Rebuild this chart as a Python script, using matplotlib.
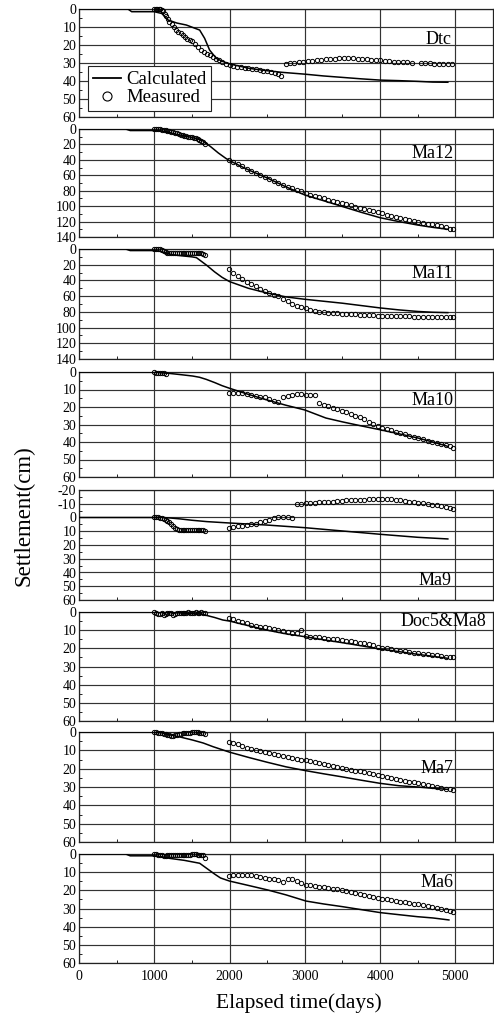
import numpy as np
import matplotlib
matplotlib.use('Agg')
import matplotlib.pyplot as plt
from matplotlib.ticker import MultipleLocator
from matplotlib.lines import Line2D

plt.rcParams['font.family'] = ['Liberation Serif', 'DejaVu Serif']
plt.rcParams['axes.unicode_minus'] = False
nan = float('nan')

# ---------------- data ----------------
T_EARLY = [1000, 1025, 1050, 1075, 1100, 1125, 1150, 1175, 1200, 1225, 1250, 1275, 1300, 1325,
           1350, 1375, 1400, 1425, 1450, 1475, 1500, 1525, 1550, 1575, 1600, 1625, 1650, 1675]
T_LATE = [1990, 2050, 2110, 2170, 2230, 2290, 2350, 2410, 2470, 2530,
          2590, 2650, 2710, 2770, 2830, 2890, 2950, 3010, 3070, 3130,
          3190, 3250, 3310, 3370, 3430, 3490, 3550, 3610, 3670, 3730,
          3790, 3850, 3910, 3970, 4030, 4090, 4150, 4210, 4270, 4330,
          4390, 4450, 4510, 4570, 4630, 4690, 4750, 4810, 4870, 4930,
          4970]

# Dtc
DTC_CALC_T = [0, 650, 700, 1000, 1100, 1183, 1300, 1426, 1603, 1669, 1735, 1824, 1900, 2000, 2265,
              2500, 2700, 3000, 3250, 3500, 3750, 4000, 4250, 4500, 4700, 4900]
DTC_CALC_V = [0, 0, 1.5, 1.5, 2.5, 6.1, 7.8, 8.9, 11.7, 16.3, 22.8, 27.4, 29, 30.5, 33,
              34.3, 35.2, 36.2, 37.2, 38, 38.8, 39.5, 39.8, 40.2, 40.6, 40.7]
DTC_MEAS_T = [1000, 1020, 1040, 1060, 1080, 1100, 1120, 1140, 1160, 1180, 1200,
              1230, 1260, 1290, 1320, 1350, 1380, 1410, 1440, 1470, 1500,
              1540, 1580, 1620, 1660, 1700, 1740, 1780, 1820, 1860, 1900,
              1950, 2000, 2050, 2100, 2150, 2200, 2250, 2300, 2350, 2400, 2450, 2500, 2550, 2600, 2650,
              2690,
              2750, 2800,
              2860, 2920, 2980, 3040, 3100, 3160, 3220, 3280, 3340, 3400,
              3460, 3520, 3580, 3640, 3700, 3760, 3820, 3880, 3940, 4000,
              4060, 4120, 4180, 4240, 4300, 4360, 4420,
              4540, 4600, 4660, 4720, 4780, 4840, 4900, 4960]
DTC_MEAS_V = [0, 0, 0, 0, 0.2, 0.5, 1, 2.5, 4, 5.5, 7,
              8.5, 10, 11.5, 12.5, 13.5, 14.5, 15.5, 16.5, 17.2, 18,
              19.5, 21, 22.5, 24, 25, 25.8, 26.5, 27.5, 28.5, 29.5,
              30.5, 31, 31.5, 32, 32.3, 32.7, 33, 33.3, 33.6, 34, 34.3, 34.7, 35, 35.5, 36.2,
              37,
              30.5, 30.2,
              29.8, 29.5, 29.3, 29, 28.8, 28.5, 28.3, 28, 27.8, 27.6,
              27.4, 27.3, 27.2, 27.3, 27.5, 27.7, 27.9, 28.1, 28.4, 28.6,
              28.8, 29, 29.2, 29.4, 29.5, 29.7, 29.8,
              30, 30.1, 30.2, 30.3, 30.4, 30.4, 30.5, 30.5]

# Ma12
MA12_CALC_T = [0, 620, 680, 1000, 1100, 1200, 1300, 1400, 1500, 1600, 1650, 1750, 1850, 1950, 2000,
               2250, 2500, 2750, 3000, 3250, 3500, 3750, 4000, 4250, 4500, 4700, 4900]
MA12_CALC_V = [0, 0, 2, 2, 2.5, 4.5, 7, 9, 11, 13.5, 15.5, 23, 31, 38, 41,
               53, 63.5, 75, 85.5, 93, 100.5, 108, 115, 120, 124.5, 127.5, 130]
MA12_EARLY = [0, 0, 0, 0.3, 0.8, 1.2, 1.6, 2, 2.8, 3.5, 4.2, 5, 5.8, 6.5,
              7.2, 8, 8.8, 9.5, 10, 10.5, 11, 11.5, 12, 13, 14, 15, 17, 20]
MA12_LATE = [40, 43, 45.5, 48.5, 51.5, 54.5, 57.5, 60, 62.5, 65,
             67.5, 70, 72.5, 75, 77, 79, 81, 83, 85, 86.5,
             88, 90, 91.5, 93, 94.5, 96, 97.5, 99, 100.5, 102,
             103.5, 105, 106.5, 108, 109.5, 111, 112.5, 114, 115, 116.5,
             117.5, 119, 120.5, 121.5, 122.5, 123.5, 125, 126, 127.5, 129,
             130]

# Ma11
MA11_CALC_T = [0, 620, 680, 1000, 1050, 1100, 1150, 1200, 1300, 1400, 1500, 1560, 1700, 1800, 1900, 2000,
               2250, 2500, 2750, 3000, 3250, 3500, 3750, 4000, 4250, 4500, 4700, 4900]
MA11_CALC_V = [0, 0, 2, 2, 2.5, 3.5, 5, 6.5, 8, 9, 10, 11, 21, 29, 36, 41.5,
               50, 56, 61, 64, 66.5, 69, 72, 75, 77.5, 79.5, 80.5, 81]
MA11_EARLY = [0, 0, 0, 0.5, 1.5, 3, 4, 4.5, 5, 5, 5, 5, 5, 5,
              5, 5, 5, 5, 5, 5, 5, 5, 5, 5, 5.5, 5.5, 6, 8]
MA11_LATE = [26, 30, 34, 38.5, 42, 45, 47.5, 50.5, 53.5, 56,
             58, 60, 63, 66, 70, 72.5, 74, 75.5, 77, 78.5,
             79.7, 80.5, 81, 81.5, 81.8, 82.2, 82.6, 83, 83.3, 83.6,
             83.9, 84.2, 84.5, 84.8, 85, 85.2, 85.4, 85.5, 85.6, 85.7,
             85.8, 86, 86.1, 86.2, 86.3, 86.4, 86.5, 86.6, 86.7, 86.8,
             86.9]

# Ma10
MA10_CALC_T = [0, 1000, 1100, 1200, 1350, 1510, 1600, 1690, 1800, 1900, 2000, 2250, 2500, 2750, 3000,
               3280, 3500, 3750, 4000, 4250, 4500, 4700, 4900]
MA10_CALC_V = [0, 0, 0.5, 0.8, 1.5, 2.3, 3, 4.2, 6, 7.8, 9.3, 12.8, 16, 19, 21.7,
               26.3, 28.5, 30.8, 33, 35.3, 37.7, 40, 42.5]
MA10_EARLY = [0, 0.3, 0.5, 0.5, 0.8, 0.8, 1]
MA10_LATE = [12, 12, 12, 12.2, 12.5, 13, 13.5, 14, 14.5, 15.5,
             16.5, 17, 14.5, 13.5, 13, 12.8, 12.8, 13, 13, 13.2,
             17.8, 18.6, 19.5, 20.5, 21.3, 22, 23, 24, 25, 25.8,
             27, 28.3, 29.5, 30.8, 31.8, 32.5, 33.2, 34, 34.7, 35.5,
             36.3, 37, 37.8, 38.5, 39.2, 39.8, 40.4, 41, 41.8, 42.5,
             43.2]

# Ma9
MA9_CALC_T = [0, 1000, 1100, 1200, 1340, 1500, 1700, 2000, 2500, 3000, 3500, 4000, 4500, 4900]
MA9_CALC_V = [0, 0, 0, 0.3, 1, 2, 3, 4, 5.5, 7.4, 9.8, 12.2, 14.4, 15.6]
MA9_EARLY = [0, 0, 0, 0.3, 0.6, 1, 1.5, 2.2, 3.5, 5, 6.5, 7.5, 8.2, 8.8,
             9, 9, 9, 9, 9, 9, 9, 9, 9, 9, 9, 9, 9, 9.5]
MA9_LATE = [7.5, 7, 6.5, 6, 5.5, 5, 4.5, 3.5, 2.5, 1.5,
            0.5, 0, -0.5, 0, 0.5, -9.5, -10, -10.2, -10.5, -10.8,
            -11, -11.2, -11.4, -11.6, -11.8, -12, -12.5, -12.7, -12.8, -13,
            -13, -13.1, -13.2, -13.2, -13.3, -13.3, -13.3, -13, -12.5, -12,
            -11.5, -11, -10.5, -10.2, -9.8, -9.3, -8.8, -8.2, -7.6, -7,
            -6.5]

# Doc5&Ma8
MA8_CALC_T = [0, 1000, 1200, 1400, 1640, 1800, 1910, 2000, 2250, 2500, 2750, 3000, 3250, 3500,
              3750, 4000, 4250, 4500, 4700, 4900]
MA8_CALC_V = [0, 0, 0.3, 0.6, 1.3, 3, 4.4, 5, 7.5, 10, 12, 13.6, 15.3, 16.9,
              18.6, 20.4, 21.8, 23.3, 24.4, 25.5]
MA8_EARLY = [0, 0.5, 1, 1.2, 0.8, 1.5, 1.2, 0.6, 0.3, 0.8, 1.5, 1, 0.5, 0.3,
             0.5, 0.8, 0.5, 0.3, 0, 0.5, 0.8, 0.3, 0, 0.3, 0.5, 0, 0.3, 0.8]
MA8_LATE = [3.3, 4, 4.8, 5.5, 6.2, 7, 7.5, 8, 8.5, 9,
            9.5, 10, 10.5, 11, 11.5, 11.8, 10, 13, 13.5, 13.8,
            14, 14.3, 14.6, 14.9, 15.1, 15.4, 15.7, 16.1, 16.5, 16.9,
            17.3, 17.7, 18.4, 19, 19.6, 20, 20.4, 20.8, 21.2, 21.6,
            22, 22.4, 22.7, 23, 23.3, 23.6, 23.9, 24.2, 24.5, 24.8,
            25]

# Ma7
MA7_CALC_T = [0, 1000, 1100, 1200, 1350, 1510, 1650, 1780, 2000, 2265, 2500, 2750, 3000, 3250,
              3500, 3750, 4000, 4250, 4500, 4700, 4900]
MA7_CALC_V = [0, 0, 0.5, 1.5, 2.8, 4.4, 6, 8, 11, 14, 16.5, 19, 21, 22.8,
              24.5, 26.3, 28, 29.3, 30, 30.7, 31.3]
MA7_EARLY = [0, 0, 0.3, 0.5, 0.8, 1, 1.3, 1.6, 1.8, 2, 2, 1.8, 1.5, 1.2,
             1, 0.8, 0.5, 0.3, 0.3, 0.3, 0.2, 0.2, 0.2, 0.2, 0.3, 0.5, 0.8, 1.2]
MA7_LATE = [5.4, 6, 6.8, 7.8, 8.5, 9.2, 10, 10.5, 11, 11.5,
            12, 12.5, 13, 13.5, 14, 14.5, 15, 15.5, 16, 16.5,
            17, 17.5, 18, 18.5, 19, 19.5, 20, 20.5, 21, 21.5,
            22, 22.5, 23, 23.5, 24, 24.5, 25, 25.5, 26, 26.5,
            27, 27.5, 28, 28.5, 29, 29.5, 30, 30.5, 31, 31.3,
            31.5]

# Ma6
MA6_CALC_T = [0, 620, 680, 1000, 1100, 1205, 1400, 1603, 1700, 1800, 1880, 2000, 2250, 2507, 2750,
              3016, 3250, 3502, 3700, 4009, 4250, 4494, 4700, 4914]
MA6_CALC_V = [0, 0, 1, 1, 1.5, 2.4, 3.5, 5.1, 8, 11, 13.2, 14.9, 17.3, 19.8, 22.5,
              25.9, 27.5, 29, 30.3, 32.3, 33.4, 34.5, 35.2, 36.3]
MA6_EARLY = [0, 0, 0.3, 0.5, 0.8, 1.2, 1, 0.8, 0.6, 0.5, 0.5, 0.4, 0.3, 0.3,
             0.4, 0.5, 0.5, 0.4, 0.3, 0.3, 0.2, 0.2, 0.2, 0.3, 0.4, 0.5, 0.8, 2]
MA6_LATE = [12, 11.8, 11.7, 11.7, 11.7, 11.8, 12, 12.5, 13, 13.5,
            14, 14.5, 15.5, 13.8, 13.5, 15, 16, 17, 17.3, 17.7,
            18, 18.3, 18.6, 19, 19.4, 19.8, 20.2, 20.7, 21.2, 21.8,
            22.4, 23, 23.6, 24.2, 24.6, 25, 25.4, 25.8, 26.2, 26.6,
            27, 27.3, 27.6, 28, 28.5, 29, 29.5, 30, 30.6, 31.2,
            31.7]

X_TICKS = [0, 1000, 2000, 3000, 4000, 5000]

panels = [
    dict(name='Dtc', ylim=(0, 60), step=10, calc=(DTC_CALC_T, DTC_CALC_V),
         meas=[(DTC_MEAS_T, DTC_MEAS_V)], lab=(0.901, 0.72)),
    dict(name='Ma12', ylim=(0, 140), step=20, calc=(MA12_CALC_T, MA12_CALC_V),
         meas=[(T_EARLY, MA12_EARLY), (T_LATE, MA12_LATE)], lab=(0.904, 0.77)),
    dict(name='Ma11', ylim=(0, 140), step=20, calc=(MA11_CALC_T, MA11_CALC_V),
         meas=[(T_EARLY, MA11_EARLY), (T_LATE, MA11_LATE)], lab=(0.904, 0.78)),
    dict(name='Ma10', ylim=(0, 60), step=10, calc=(MA10_CALC_T, MA10_CALC_V),
         meas=[(T_EARLY, MA10_EARLY), (T_LATE, MA10_LATE)], lab=(0.904, 0.73)),
    dict(name='Ma9', ylim=(-20, 60), step=10, calc=(MA9_CALC_T, MA9_CALC_V),
         meas=[(T_EARLY, MA9_EARLY), (T_LATE, MA9_LATE)], lab=(0.900, 0.18)),
    dict(name='Doc5&Ma8', ylim=(0, 60), step=10, calc=(MA8_CALC_T, MA8_CALC_V),
         meas=[(T_EARLY, MA8_EARLY), (T_LATE, MA8_LATE)], lab=(0.983, 0.91)),
    dict(name='Ma7', ylim=(0, 60), step=10, calc=(MA7_CALC_T, MA7_CALC_V),
         meas=[(T_EARLY, MA7_EARLY), (T_LATE, MA7_LATE)], lab=(0.904, 0.67)),
    dict(name='Ma6', ylim=(0, 60), step=10, calc=(MA6_CALC_T, MA6_CALC_V),
         meas=[(T_EARLY, MA6_EARLY), (T_LATE, MA6_LATE)], lab=(0.904, 0.74)),
]

# ---------------- layout ----------------
W, H = 494, 1016
fig = plt.figure(figsize=(W / 100, H / 100), dpi=100)
tops = [9, 129, 249, 372, 490, 612, 732, 854]
bots = [117, 237, 359, 477, 600, 721, 842, 963]
x0, x1 = 79, 493

GRID_C = '#333333'
axes = []
for i, p in enumerate(panels):
    ax = fig.add_axes([x0 / W, 1 - bots[i] / H, (x1 - x0) / W, (bots[i] - tops[i]) / H])
    axes.append(ax)
    lo, hi = p['ylim']
    ax.set_xlim(0, 5500)
    ax.set_ylim(hi, lo)
    ax.yaxis.set_major_locator(MultipleLocator(p['step']))
    ax.yaxis.set_minor_locator(MultipleLocator(p['step'] / 2))
    ax.set_xticks(X_TICKS)
    ax.xaxis.set_minor_locator(MultipleLocator(500))
    ax.grid(True, which='major', color=GRID_C, lw=0.85)
    ax.set_axisbelow(True)
    ax.tick_params(which='both', direction='in', labelsize=10, pad=2, color='#222222')
    ax.tick_params(which='major', length=0)
    ax.tick_params(which='minor', length=2.5, width=0.7)
    ax.tick_params(axis='x', which='minor', top=False)
    ax.tick_params(axis='y', which='minor', right=False)
    for s in ax.spines.values():
        s.set_color('#222222')
        s.set_linewidth(0.9)
    if i < len(panels) - 1:
        ax.tick_params(axis='x', labelbottom=False)
    else:
        ax.tick_params(axis='x', pad=5)

    ct, cv = p['calc']
    ax.plot(ct, cv, color='black', lw=1.1, zorder=3)
    for mt, mv in p['meas']:
        ax.plot(mt[:len(mv)], mv, ls='none', marker='o', ms=3.1, mfc='none', mec='black',
                mew=0.7, zorder=4, clip_on=False)
    ax.text(p['lab'][0], p['lab'][1], p['name'], transform=ax.transAxes, ha='right', va='center',
            fontsize=13, zorder=5)

# legend in first panel
handles = [Line2D([], [], color='black', lw=1.3),
           Line2D([], [], ls='none', marker='o', ms=6.5, mfc='none', mec='black', mew=0.8)]
leg = axes[0].legend(handles, ['Calculated', 'Measured'], loc='lower left',
                     bbox_to_anchor=(0.022, 0.056), borderaxespad=0, fontsize=13.5,
                     handlelength=1.5, handletextpad=0.3, borderpad=0.25, labelspacing=0.05,
                     fancybox=False, framealpha=1, edgecolor='#222222')
leg.get_frame().set_linewidth(0.8)
leg.set_zorder(10)

fig.text(24 / W, 1 - 516 / H, 'Settlement(cm)', rotation=90, ha='center', va='center', fontsize=16.5)
fig.text(299 / W, 1 - 1003 / H, 'Elapsed time(days)', ha='center', va='center', fontsize=15.5)

fig.savefig('out.png', dpi=100)
